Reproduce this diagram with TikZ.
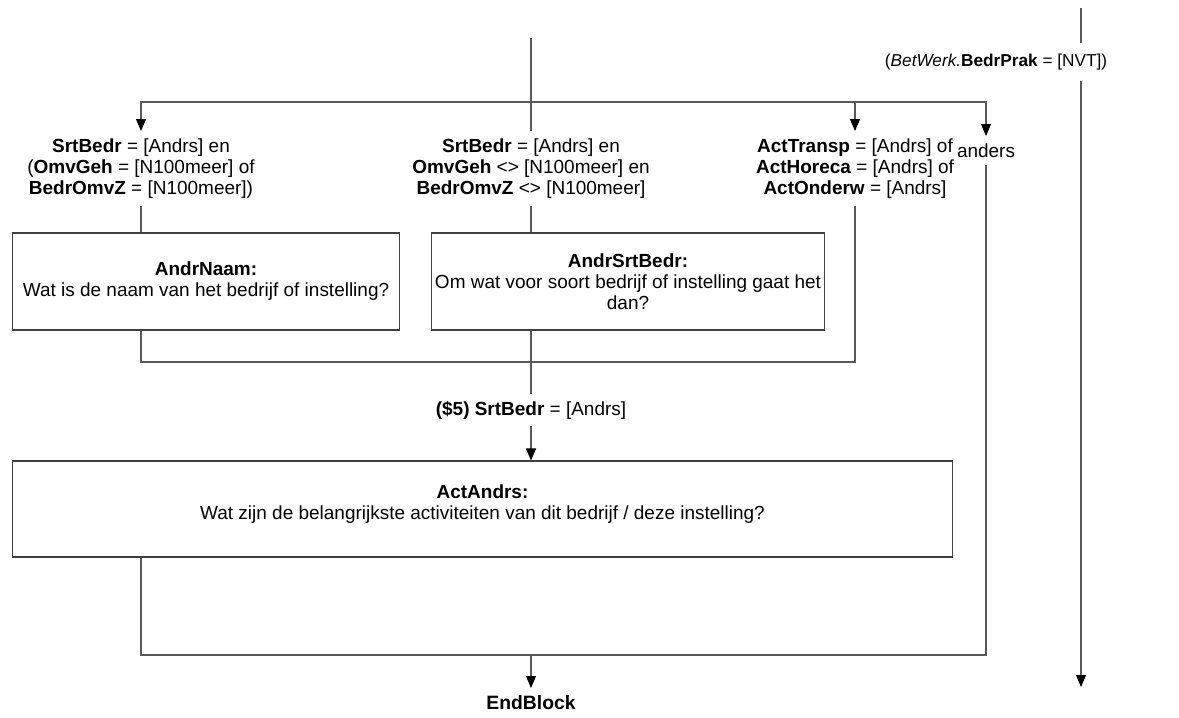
\documentclass[tikz,border=0pt]{standalone}
\usepackage{fontspec}
\setmainfont{Liberation Sans}
\usetikzlibrary{arrows.meta,positioning,calc}

\begin{document}
\begin{tikzpicture}[x=0.02cm, y=-0.02cm, every node/.style={font=\fontsize{10.8}{12}\selectfont}]
    \tikzstyle{qbox} = [rectangle, draw=black!75, line width=0.6pt, align=center, inner sep=2pt]
    \tikzstyle{cond} = [align=center, inner sep=4pt]
    \tikzstyle{link} = [draw=black!65, line width=0.6pt]
    \tikzstyle{arr} = [link, -{Triangle[length=0.24cm, width=0.2cm, color=black]}]
    \useasboundingbox (0,0) rectangle (1179,717);

    % conditions
    \coordinate (top) at (531,38);
    \coordinate (split) at (531,102);
    \node (condA) [cond, anchor=north] at (141,131) {\textbf{SrtBedr} = [Andrs] en\\(\textbf{OmvGeh} = [N100meer] of\\\textbf{BedrOmvZ} = [N100meer])};
    \node (condB) [cond, anchor=north] at (531,131) {\textbf{SrtBedr} = [Andrs] en\\\textbf{OmvGeh} <> [N100meer] en\\\textbf{BedrOmvZ} <> [N100meer]};
    \node (condC) [cond, anchor=north] at (855,131) {\textbf{ActTransp} = [Andrs] of\\\textbf{ActHoreca} = [Andrs] of\\\textbf{ActOnderw} = [Andrs]};
    \node (anders) [cond, anchor=north] at (986,136) {anders};

    % questions
    \node (andrNaam) [qbox, minimum width=7.76cm, minimum height=1.94cm] at (206,281.5) {\textbf{AndrNaam:}\\Wat is de naam van het bedrijf of instelling?};
    \node (andrSrtBedr) [qbox, minimum width=7.8cm, minimum height=1.94cm] at (628,281.5) {\textbf{AndrSrtBedr:}\\Om wat voor soort bedrijf of instelling gaat het\\dan?};
    \coordinate (join) at (531,362);
    \node (cond5) [cond] at (531,410) {\textbf{(\$5) SrtBedr} = [Andrs]};
    \node (actAndrs) [qbox, minimum width=18.82cm, minimum height=1.92cm] at (482.5,509) {\textbf{ActAndrs:}\\Wat zijn de belangrijkste activiteiten van dit bedrijf / deze instelling?\\[-4pt]};
    \coordinate (merge) at (531,655);
    \node (endBlock) [cond, anchor=north, font=\fontsize{11}{13}\selectfont\bfseries] at (531,688) {EndBlock};

    % skip path
    \coordinate (rtop) at (1081,8);
    \node (nvt) [cond, anchor=east, inner sep=6pt, font=\fontsize{9.8}{11}\selectfont] at (1118,62) {(\textit{BetWerk.}\textbf{BedrPrak} = [NVT])};
    \coordinate (rend) at (1081,687);

    \draw [link] (top) -- (condB.north);
    \draw [arr] (split) -| (condA.north);
    \draw [arr] (split) -| (condC.north);
    \draw [arr] (split) -| (anders.north);
    \draw [link] (condA.south) -- (condA.south |- andrNaam.north);
    \draw [link] (condB.south) -- (condB.south |- andrSrtBedr.north);
    \draw [link] (condA.south |- andrNaam.south) |- (join);
    \draw [link] (condC.south) |- (join);
    \draw [link] (condB.south |- andrSrtBedr.south) -- (cond5.north);
    \draw [arr] (cond5.south) -- (cond5.south |- actAndrs.north);
    \draw [link] (condA.south |- actAndrs.south) |- (merge) -| (anders.south);
    \draw [arr] (merge) -- (endBlock.north);
    \draw [link] (rtop) -- (rtop |- nvt.north);
    \draw [arr] (rtop |- nvt.south) -- (rend);
\end{tikzpicture}
\end{document}
